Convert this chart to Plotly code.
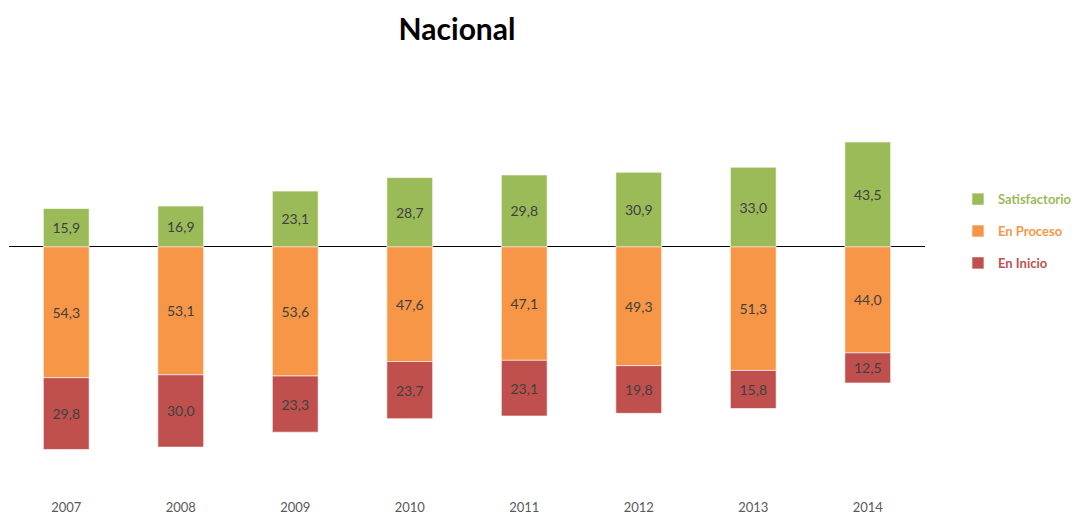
import plotly.graph_objects as go

years = ["2007", "2008", "2009", "2010", "2011", "2012", "2013", "2014"]
satisfactorio = [15.9, 16.9, 23.1, 28.7, 29.8, 30.9, 33.0, 43.5]
en_proceso = [54.3, 53.1, 53.6, 47.6, 47.1, 49.3, 51.3, 44.0]
en_inicio = [29.8, 30.0, 23.3, 23.7, 23.1, 19.8, 15.8, 12.5]

series = [
    ("Satisfactorio", satisfactorio, 1, "#9BBB59"),
    ("En Proceso", en_proceso, -1, "#F79646"),
    ("En Inicio", en_inicio, -1, "#C0504D"),
]

FONT = "Lato, Open Sans, sans-serif"

def fmt(v):
    return f"{v:.1f}".replace(".", ",")

fig = go.Figure()
for name, vals, sign, color in series:
    fig.add_trace(go.Bar(
        x=years,
        y=[sign * v for v in vals],
        name=f"<b><span style='color:{color}'>{name}</span></b>",
        legendgroup=name,
        marker=dict(color=color, line=dict(color="rgba(255,255,255,0.6)", width=1)),
        text=[fmt(v) for v in vals],
        textposition="inside",
        insidetextanchor="middle",
        textfont=dict(color="#404040", size=14, family=FONT),
        width=0.4,
        hoverinfo="skip",
    ))

fig.update_layout(
    width=1073, height=507,
    template="none",
    barmode="relative",
    paper_bgcolor="white", plot_bgcolor="white",
    margin=dict(l=1, r=156, t=92, b=18),
    title=dict(text="<b>Nacional</b>", x=0.4185, xanchor="center", y=0.957, yanchor="middle",
               font=dict(size=30, color="black", family=FONT)),
    xaxis=dict(showgrid=False, showline=False, ticks="", automargin=False,
               ticklabelstandoff=1,
               tickfont=dict(size=13, color="#595959", family=FONT)),
    yaxis=dict(range=[-103.8, 60.9], showgrid=False, showticklabels=False, ticks="",
               zeroline=True, zerolinecolor="black", zerolinewidth=1, automargin=False),
    legend=dict(x=1.036, y=0.788, xanchor="left", yanchor="top",
                tracegroupgap=12, traceorder="grouped",
                font=dict(size=13, family=FONT)),
    uniformtext=dict(mode="show", minsize=10),
)

fig.write_html("out.html")
